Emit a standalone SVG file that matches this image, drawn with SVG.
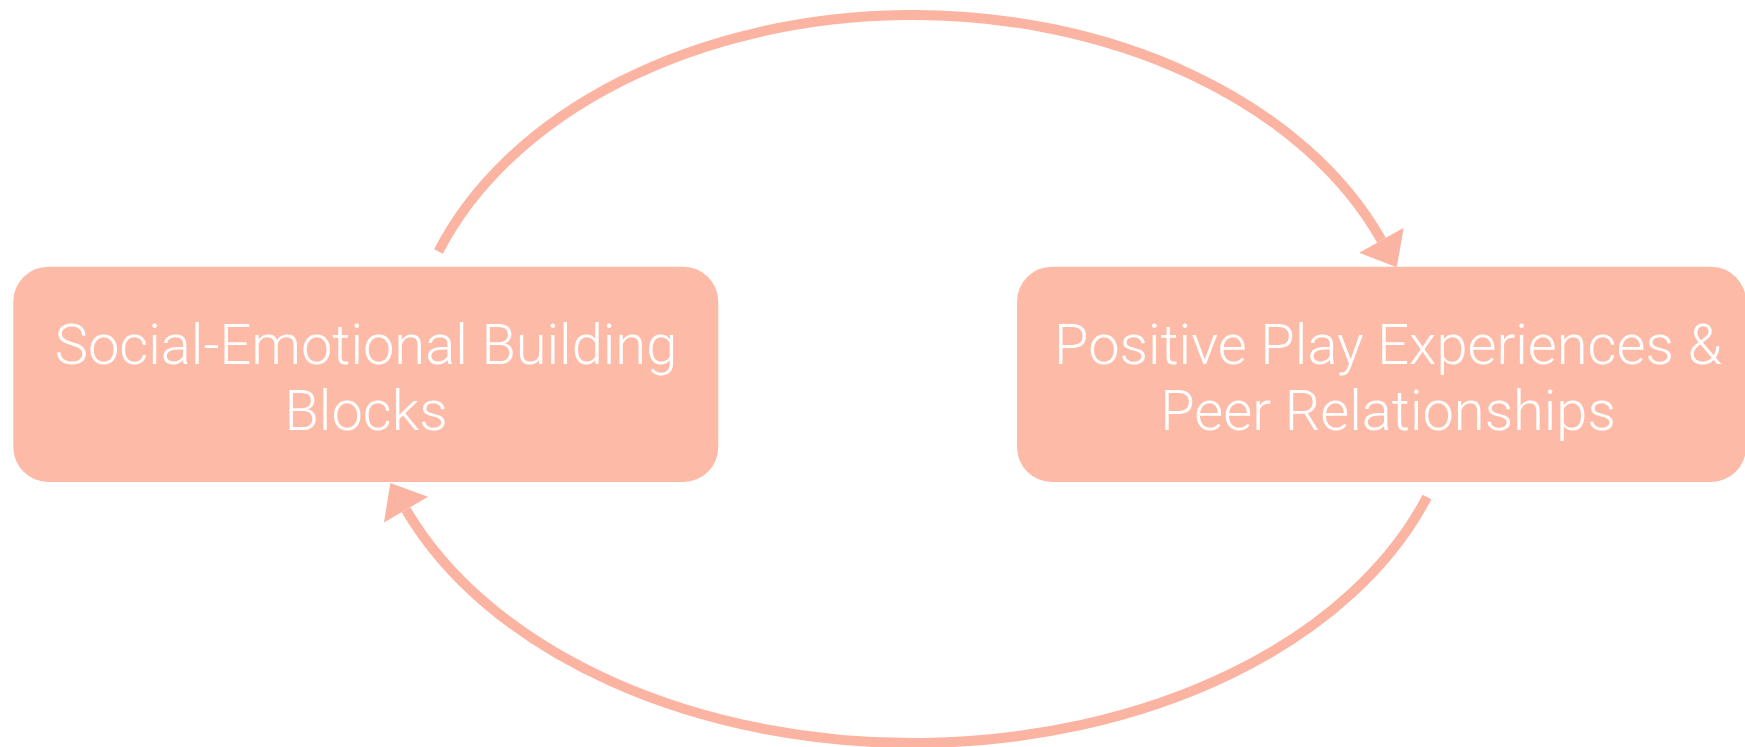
<svg xmlns="http://www.w3.org/2000/svg" width="1745" height="747" viewBox="0 0 1745 747">
  <style>
    .box { fill: #FDBAA7; }
    .label { fill: #FFFFFF; font-family: Roboto, "Liberation Sans", Arial, sans-serif; font-weight: 300; font-size: 56px; text-anchor: middle; }
    .arc { fill: none; stroke: #FBB4A2; stroke-width: 10; }
  </style>
  <defs>
    <marker id="head" markerUnits="userSpaceOnUse" markerWidth="40" markerHeight="60" viewBox="0 -30 40 60" refX="0" refY="0" orient="auto" overflow="visible">
      <path d="M0,-25.5 L31,0 L0,25.5 Z" fill="#FBB4A2"/>
    </marker>
  </defs>
  <rect width="1745" height="747" fill="#FFFFFF"/>
  <g id="connectors">
    <path class="arc" d="M 438.5 251.5 A 505 359.5 0 0 1 1381.5 240.3" marker-end="url(#head)"/>
    <path class="arc" d="M 1427 497 A 545 368.5 0 0 1 406 509.7" marker-end="url(#head)"/>
  </g>
  <g id="node-social-emotional">
    <rect class="box" x="13.3" y="266.7" width="705" height="215.3" rx="35" ry="35"/>
    <text class="label" x="366" y="364">Social-Emotional Building</text>
    <text class="label" x="366" y="430">Blocks</text>
  </g>
  <g id="node-positive-play">
    <rect class="box" x="1017" y="266.7" width="729" height="215.3" rx="35" ry="35"/>
    <text class="label" x="1388" y="364">Positive Play Experiences &amp;</text>
    <text class="label" x="1388" y="430">Peer Relationships</text>
  </g>
</svg>
